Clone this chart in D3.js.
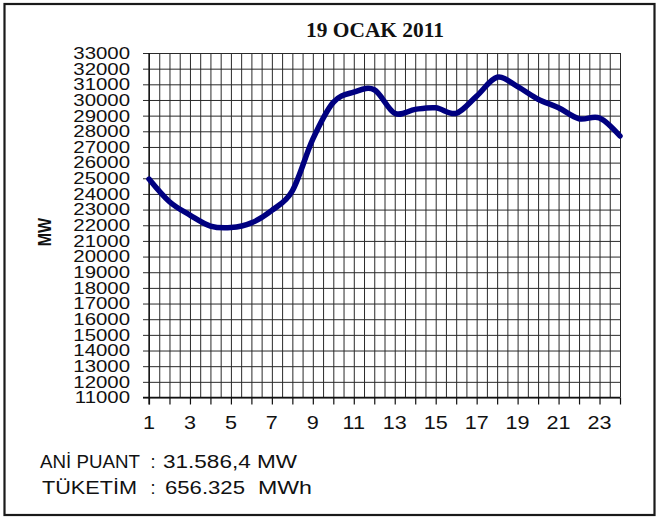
<!DOCTYPE html>
<html>
<head>
<meta charset="utf-8">
<script src="https://cdn.jsdelivr.net/npm/d3@7"></script>
<style>
  html, body { margin: 0; padding: 0; background: #fff; }
  svg { display: block; }
</style>
</head>
<body>
<svg id="chart" width="658" height="519"></svg>
<script>
// ---- data ----
const hours = [1,2,3,4,5,6,7,8,9,10,11,12,13,14,15,16,17,18,19,20,21,22,23,24];
const loadMW = [24950,23500,22650,21950,21850,22150,22950,24200,27500,29850,30500,30650,
                29150,29400,29500,29150,30250,31450,30850,30050,29500,28800,28850,27700];
const yTicks = [11000,12000,13000,14000,15000,16000,17000,18000,19000,20000,21000,22000,
                23000,24000,25000,26000,27000,28000,29000,30000,31000,32000,33000];
const xTickLabels = [1,3,5,7,9,11,13,15,17,19,21,23];
const title = "19 OCAK 2011";
const yTitle = "MW";
const infoLabels = ["ANİ PUANT", "TÜKETİM"];
const infoValues = ["31.586,4 MW", "656.325"];
const infoUnits = ["", "MWh"];

// ---- layout ----
const svg = d3.select("#chart");
const pLeft = 149, pRight = 620, pTop = 53, pBottom = 397.5;
const x = d3.scaleLinear().domain([1, 24]).range([pLeft, pRight]);
const y = d3.scaleLinear().domain([11000, 33000]).range([pBottom, pTop]);
const SANS = "'Liberation Sans', Arial, sans-serif";
const SERIF = "'Liberation Serif', 'Times New Roman', serif";
const gridColor = "#2a2a2a";

// frame
svg.append("rect").attr("x", 4.5).attr("y", 4).attr("width", 650).attr("height", 511)
  .attr("fill", "#fff").attr("stroke", "#1a1a1a").attr("stroke-width", 2.2);

// title
svg.append("text").attr("x", 375).attr("y", 37).attr("text-anchor", "middle")
  .attr("font-family", SERIF).attr("font-weight", "bold").attr("font-size", 20)
  .attr("textLength", 138).attr("lengthAdjust", "spacingAndGlyphs")
  .attr("fill", "#111").text(title);

// vertical gridlines (every half hour), via axis
const halfSteps = d3.range(1, 24.01, 0.5);
const vg = svg.append("g").attr("transform", `translate(0,${pBottom})`)
  .call(d3.axisBottom(x).tickValues(halfSteps).tickSize(-(pBottom - pTop)).tickFormat(""));
vg.select(".domain").remove();
vg.selectAll("line").attr("stroke", gridColor).attr("stroke-width", 1);

// horizontal gridlines + left tick marks via axis
const yg = svg.append("g").attr("transform", `translate(${pLeft},0)`)
  .call(d3.axisLeft(y).tickValues(yTicks).tickSize(-(pRight - pLeft)).tickFormat(""));
yg.select(".domain").remove();
yg.selectAll("line").attr("x1", -6).attr("stroke", gridColor).attr("stroke-width", 1);

// axis lines
svg.append("line").attr("x1", pLeft).attr("x2", pLeft).attr("y1", pTop).attr("y2", pBottom + 7)
  .attr("stroke", "#111").attr("stroke-width", 1.3);
svg.append("line").attr("x1", pLeft - 6).attr("x2", pRight).attr("y1", pBottom).attr("y2", pBottom)
  .attr("stroke", "#111").attr("stroke-width", 1.3);

// x tick marks at each hour
const xt = svg.append("g").attr("transform", `translate(0,${pBottom})`)
  .call(d3.axisBottom(x).tickValues(hours).tickSize(7).tickFormat(""));
xt.select(".domain").remove();
xt.selectAll("line").attr("stroke", "#111").attr("stroke-width", 1.2);

// y tick labels
svg.append("g").selectAll("text").data(yTicks).join("text")
  .attr("transform", d => `translate(130,${y(d)}) scale(1.2,1)`)
  .attr("text-anchor", "end").attr("dominant-baseline", "central")
  .attr("font-family", SANS).attr("font-size", 17).attr("fill", "#111")
  .text(d => d);

// x tick labels
svg.append("g").selectAll("text").data(xTickLabels).join("text")
  .attr("transform", d => `translate(${x(d)},429) scale(1.2,1)`)
  .attr("text-anchor", "middle")
  .attr("font-family", SANS).attr("font-size", 18).attr("fill", "#111")
  .text(d => d);

// y title
svg.append("text").attr("transform", "translate(51,232) rotate(-90) scale(1,1.15)")
  .attr("text-anchor", "middle")
  .attr("font-family", SANS).attr("font-weight", "bold").attr("font-size", 16).attr("fill", "#111")
  .text(yTitle);

// line
const line = d3.line().x((d, i) => x(hours[i])).y(d => y(d)).curve(d3.curveCardinal.tension(0));
svg.append("path").datum(loadMW).attr("d", line)
  .attr("fill", "none").attr("stroke", "#000080").attr("stroke-width", 5.5)
  .attr("stroke-linejoin", "round").attr("stroke-linecap", "round");

// info text
const infoY = [468, 494];
const labelX = [40, 42], labelW = [100, 95];
const valueX = [163, 165], valueW = [134, 80];
const unitX = 258, unitW = 54;
function addText(str, xx, yy, w) {
  svg.append("text").attr("x", xx).attr("y", yy)
    .attr("font-family", SANS).attr("font-size", 18).attr("fill", "#111")
    .attr("textLength", w).attr("lengthAdjust", "spacingAndGlyphs").text(str);
}
infoLabels.forEach((t, i) => {
  addText(t, labelX[i], infoY[i], labelW[i]);
  svg.append("text").attr("x", 153).attr("y", infoY[i]).attr("text-anchor", "middle")
    .attr("font-family", SANS).attr("font-size", 18).attr("fill", "#111").text(":");
  addText(infoValues[i], valueX[i], infoY[i], valueW[i]);
  if (infoUnits[i]) addText(infoUnits[i], unitX, infoY[i], unitW);
});
</script>
</body>
</html>
